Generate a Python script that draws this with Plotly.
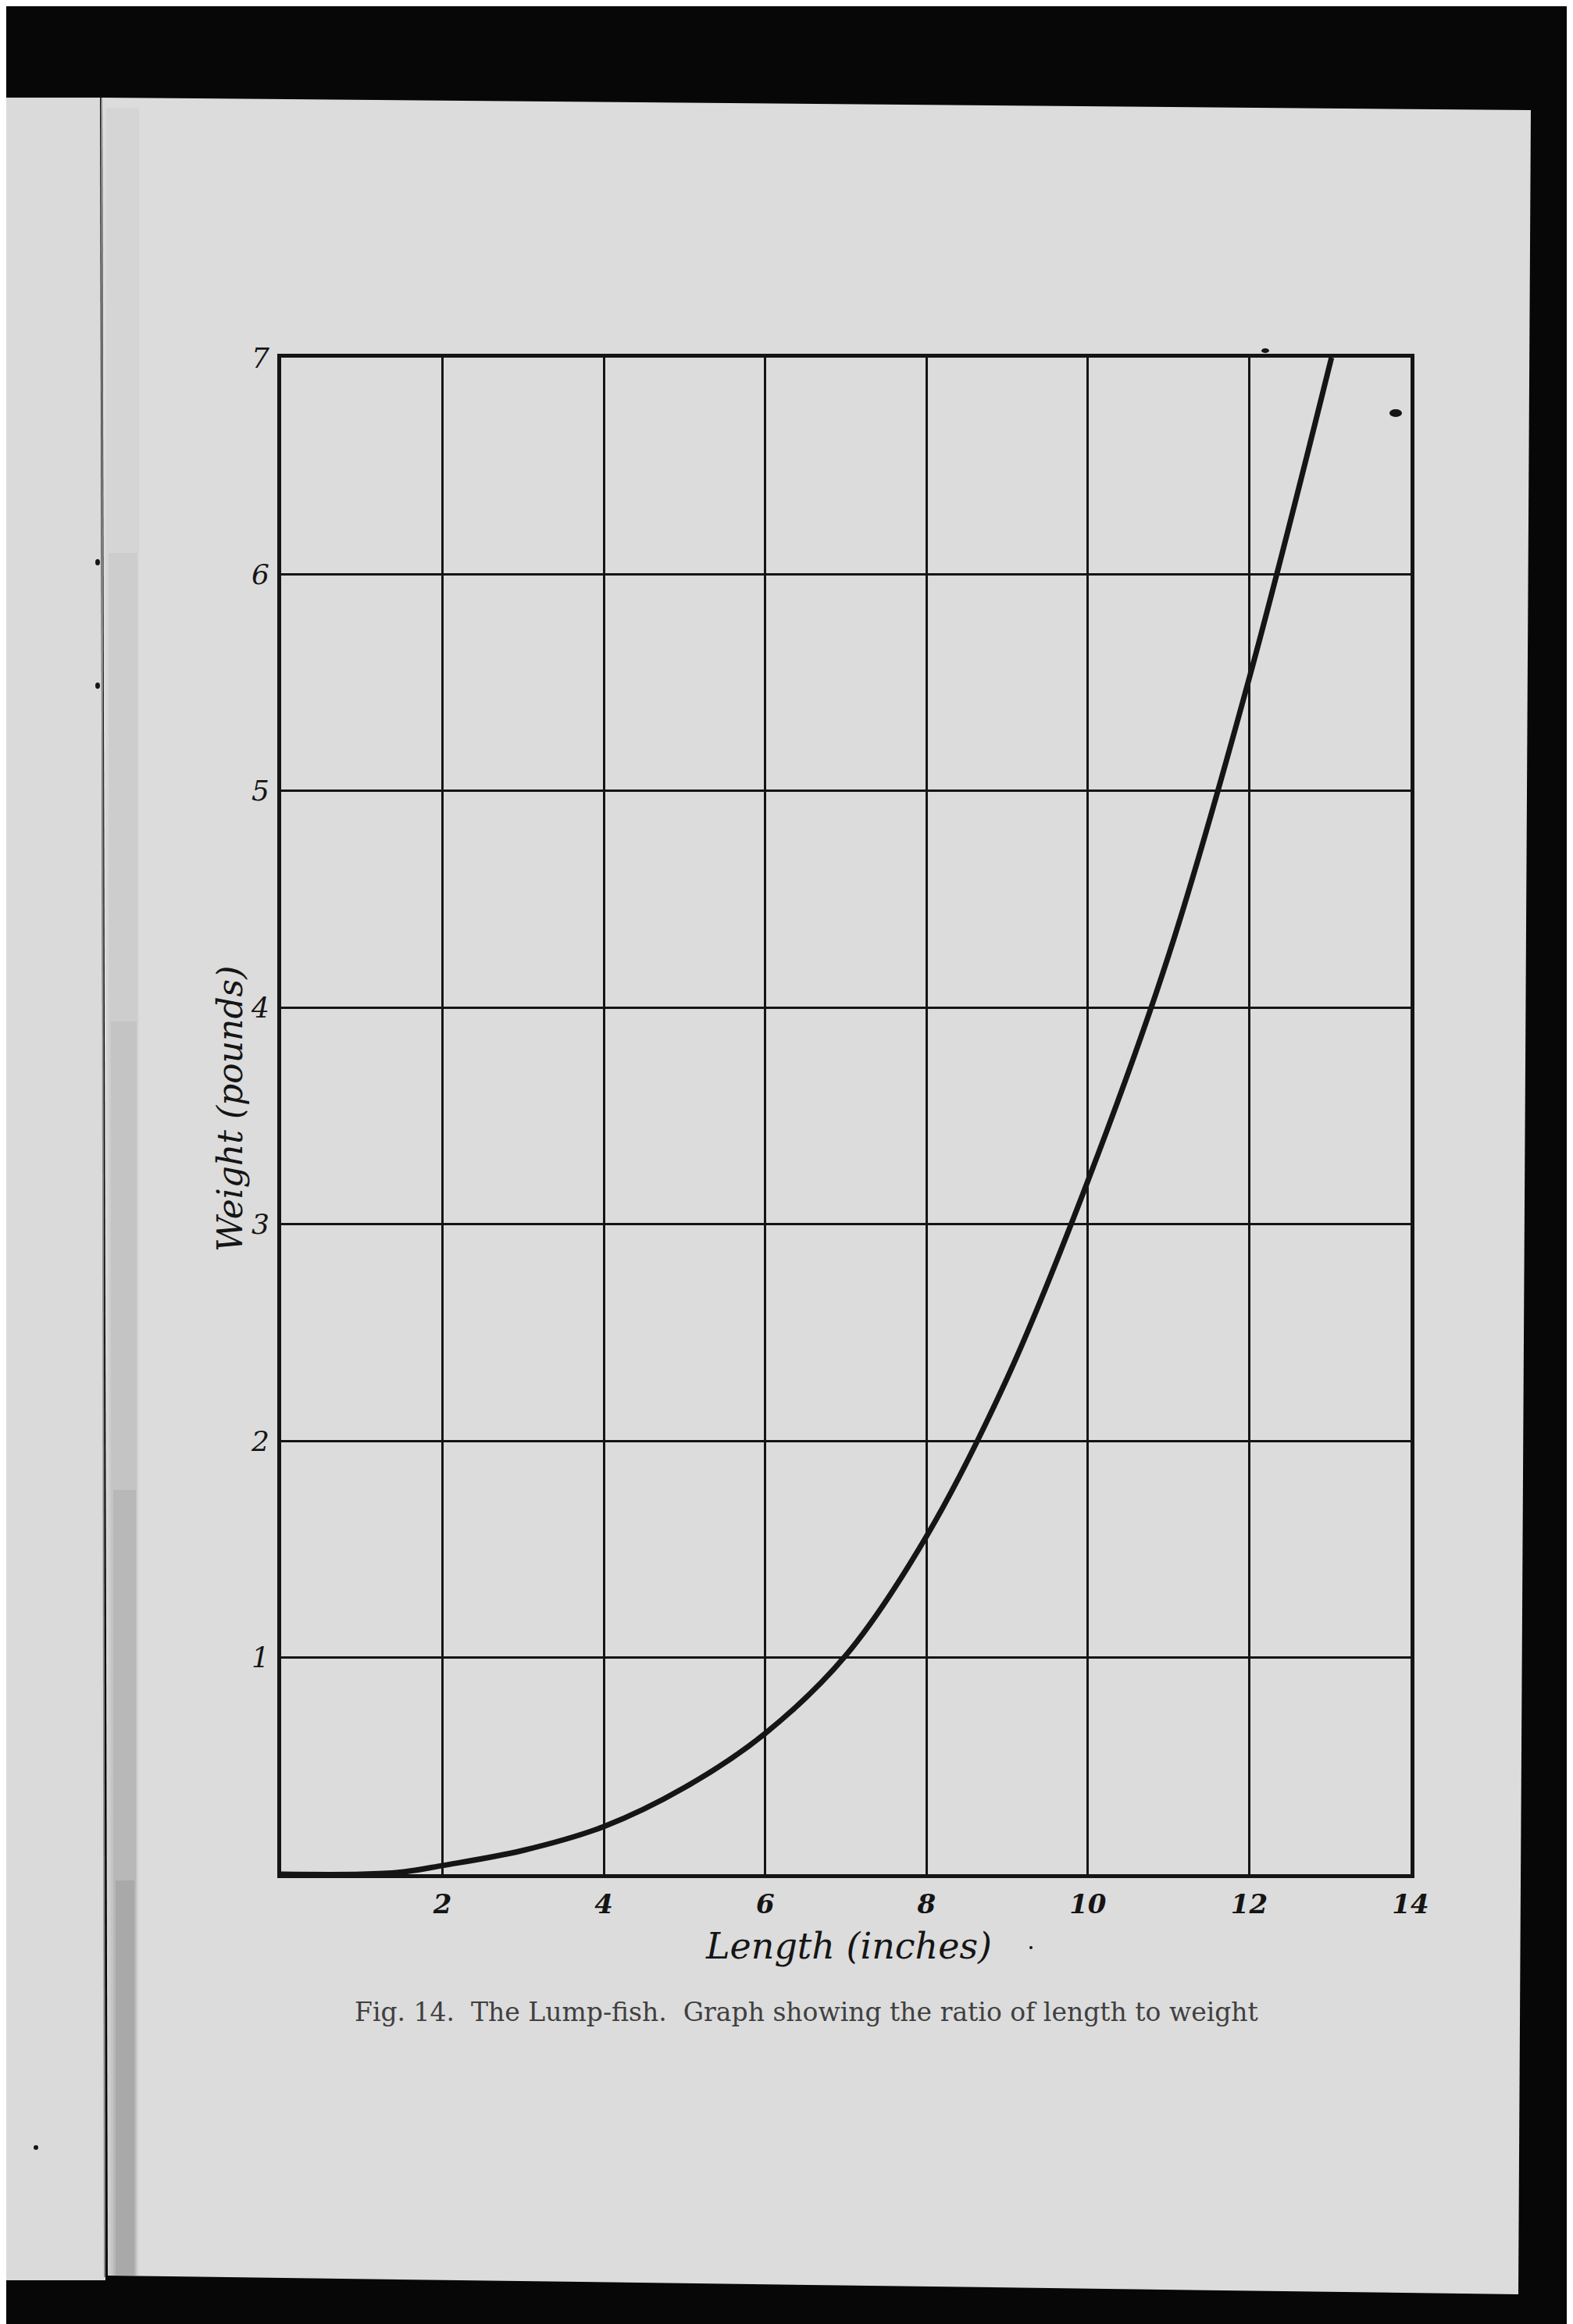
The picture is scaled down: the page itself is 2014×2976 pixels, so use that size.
import plotly.graph_objects as go

# ---- data ----
length_in = [0, 1.0, 1.5, 2, 3, 4, 5, 6, 7, 8, 9, 10, 11, 12, 13.02]
weight_lb = [0, 0, 0.01, 0.04, 0.11, 0.22, 0.40, 0.65, 1.01, 1.56, 2.29, 3.2, 4.24, 5.52, 7.0]

x_tick_vals = [2, 4, 6, 8, 10, 12, 14]
x_tick_text = ["2", "4", "6", "8", "10", "12", "14"]
y_tick_vals = [1, 2, 3, 4, 5, 6, 7]
y_tick_text = ["1", "2", "3", "4", "5", "6", "7"]

x_title = "Length (inches)"
y_title = "Weight (pounds)"
caption = "Fig. 14.  The Lump-fish.  Graph showing the ratio of length to weight"

# ---- geometry / style ----
W, H = 2014, 2976
L, R, T, B = 352, 216, 450, 584
PW, PH = W - L - R, H - T - B
INK = "#151515"
PAGE = "#dcdcdc"


def px_x(px):
    return (px - L) / PW


def px_y(py):
    return (H - B - py) / PH


def poly(points):
    return "M " + " L ".join(f"{px_x(x):.5f},{px_y(y):.5f}" for x, y in points) + " Z"


shapes = []
# left neighbouring page strip
shapes.append(dict(type="path", xref="paper", yref="paper", layer="below",
                   path=poly([(0, 117), (120, 117), (127, 2912), (0, 2912)]),
                   fillcolor="#dadada", line=dict(width=0)))
# main page
shapes.append(dict(type="path", xref="paper", yref="paper", layer="below",
                   path=poly([(123, 117), (1952, 133), (1936, 2930), (130, 2906)]),
                   fillcolor=PAGE, line=dict(width=0)))
# gutter line + shadow
shapes.append(dict(type="line", xref="paper", yref="paper", layer="below",
                   x0=px_x(122), x1=px_x(126), y0=px_y(117), y1=px_y(2908),
                   line=dict(color="#8a8a8a", width=2)))
for x0, x1, y0, alpha in [(128, 170, 130, 0.03), (131, 168, 700, 0.035),
                          (134, 167, 1300, 0.045), (137, 166, 1900, 0.06),
                          (140, 164, 2400, 0.08)]:
    shapes.append(dict(type="rect", xref="paper", yref="paper", layer="below",
                       x0=px_x(x0), x1=px_x(x1), y0=px_y(y0), y1=px_y(2906),
                       fillcolor=f"rgba(0,0,0,{alpha})", line=dict(width=0)))
# ink specks
for cx, cy, rx, ry in [(1779, 521, 8, 5), (1612, 441, 5, 3), (117, 712, 3, 4),
                       (117, 870, 3, 4), (38, 2742, 3, 3), (1312, 2486, 2, 2)]:
    shapes.append(dict(type="circle", xref="paper", yref="paper", layer="above",
                       x0=px_x(cx - rx), x1=px_x(cx + rx), y0=px_y(cy + ry), y1=px_y(cy - ry),
                       fillcolor=INK, line=dict(width=0)))

fig = go.Figure()
fig.add_trace(go.Scatter(
    x=length_in, y=weight_lb, mode="lines",
    line=dict(color=INK, width=7, shape="spline", smoothing=1.0),
    hoverinfo="skip", showlegend=False,
))

fig.update_xaxes(
    range=[0, 14], tickvals=x_tick_vals, ticktext=x_tick_text,
    showgrid=True, gridcolor=INK, gridwidth=2.5,
    showline=True, mirror=True, linecolor=INK, linewidth=5,
    zeroline=False, ticks="outside", ticklen=4, tickcolor="rgba(0,0,0,0)",
    tickfont=dict(family="DejaVu Serif", size=34, color=INK, style="italic", weight="bold"),
    fixedrange=True,
)
fig.update_yaxes(
    range=[0, 7], tickvals=y_tick_vals, ticktext=y_tick_text,
    showgrid=True, gridcolor=INK, gridwidth=2.8,
    showline=True, mirror=True, linecolor=INK, linewidth=5,
    zeroline=False, ticks="outside", ticklen=3, tickcolor="rgba(0,0,0,0)",
    tickfont=dict(family="DejaVu Serif", size=36, color=INK, style="italic"),
    fixedrange=True,
)

annotations = [
    dict(text=x_title, xref="paper", yref="paper", x=px_x(1078), y=px_y(2484),
         xanchor="center", yanchor="middle", showarrow=False,
         font=dict(family="DejaVu Serif", size=46, color=INK, style="italic")),
    dict(text=y_title, xref="paper", yref="paper", x=px_x(286), y=px_y(1412),
         xanchor="center", yanchor="middle", showarrow=False, textangle=-90,
         font=dict(family="DejaVu Serif", size=44, color=INK, style="italic")),
    dict(text=caption, xref="paper", yref="paper", x=px_x(1024), y=px_y(2568),
         xanchor="center", yanchor="middle", showarrow=False,
         font=dict(family="DejaVu Serif", size=33, color="#404040")),
]

fig.update_layout(
    width=W, height=H,
    margin=dict(l=L, r=R, t=T, b=B, autoexpand=False),
    paper_bgcolor="#070707", plot_bgcolor="rgba(0,0,0,0)",
    showlegend=False, shapes=shapes, annotations=annotations,
)

fig.write_html("out.html")
